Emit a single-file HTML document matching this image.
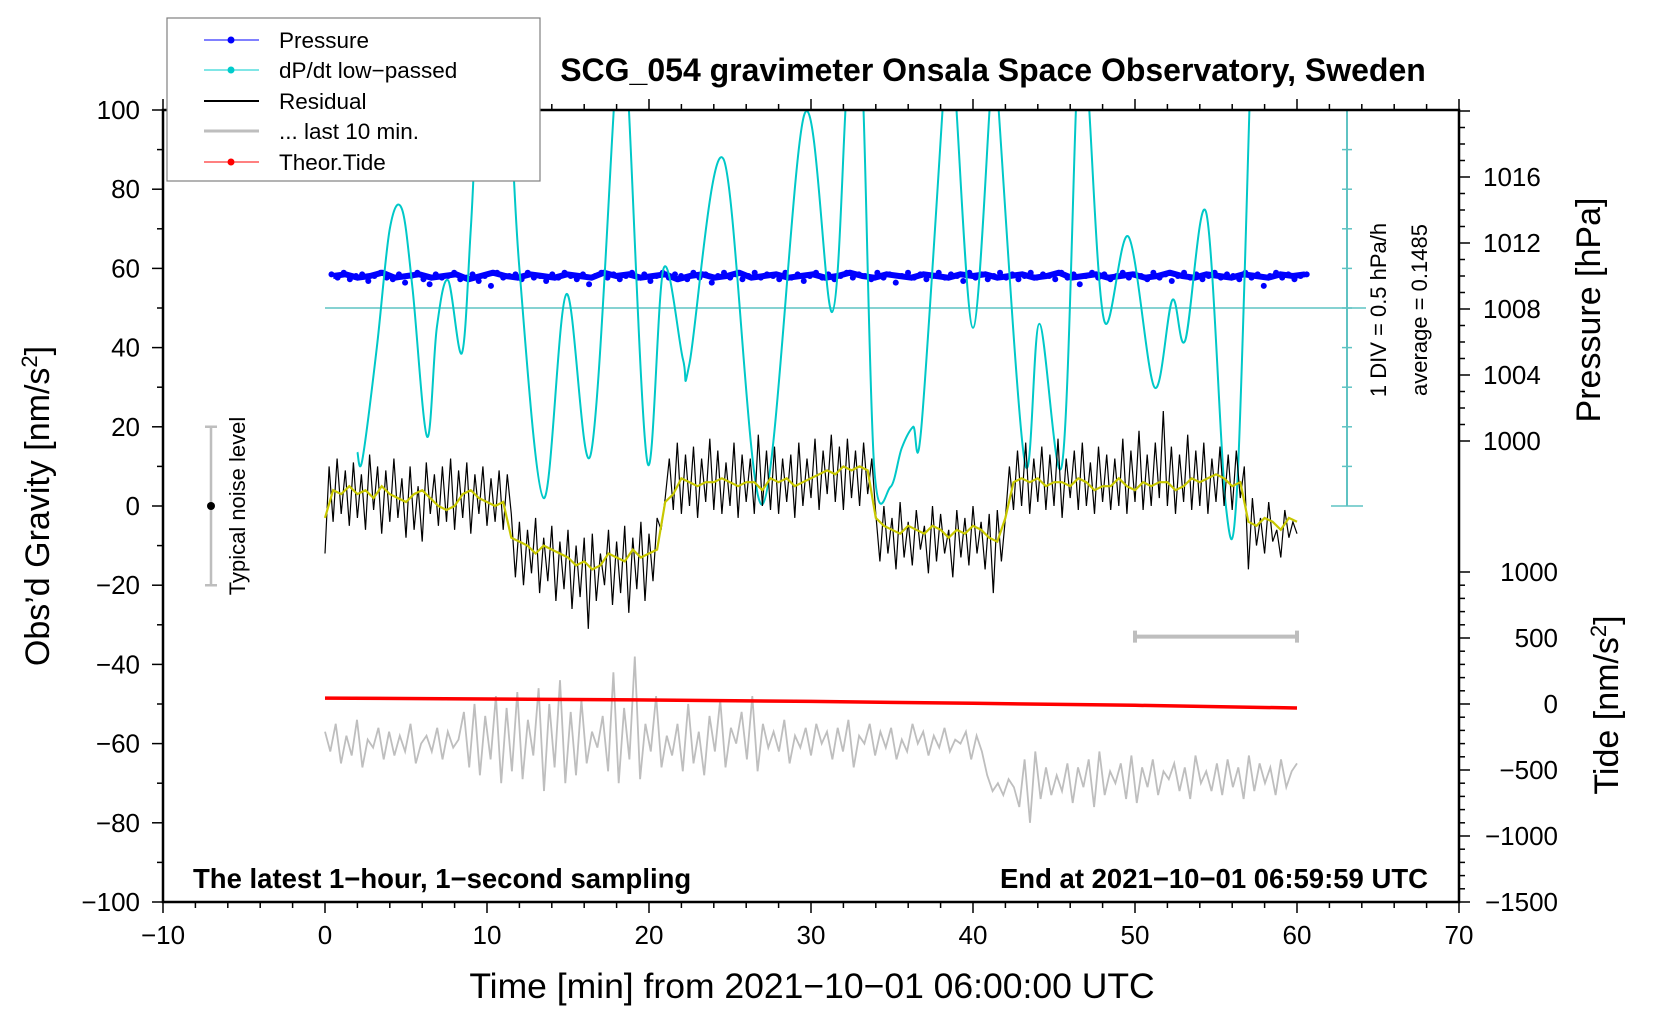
<!DOCTYPE html>
<html><head><meta charset="utf-8">
<style>
html,body{margin:0;padding:0;background:#fff;}
svg{display:block;font-family:"Liberation Sans",Arial,sans-serif;}
</style></head>
<body>
<svg id="chart" width="1660" height="1020" viewBox="0 0 1660 1020" xmlns="http://www.w3.org/2000/svg">
<defs><clipPath id="plotclip"><rect x="163" y="110" width="1296" height="792"/></clipPath></defs>
<g id="layer-data" clip-path="url(#plotclip)"></g>
<g id="layer-axes"></g>
<text x="993" y="81" text-anchor="middle" font-size="32" font-weight="bold">SCG_054 gravimeter Onsala Space Observatory, Sweden</text>
<text x="193" y="888" font-size="27.5" font-weight="bold">The latest 1−hour, 1−second sampling</text>
<text x="1428" y="888" text-anchor="end" font-size="27.5" font-weight="bold">End at 2021−10−01 06:59:59 UTC</text>
<text x="812" y="998" text-anchor="middle" font-size="35.5">Time [min] from 2021−10−01 06:00:00 UTC</text>
<text transform="translate(49,506) rotate(-90)" text-anchor="middle" font-size="34">Obs’d Gravity [nm/s<tspan dy="-12" font-size="22">2</tspan><tspan dy="12">]</tspan></text>
<text transform="translate(1600,310) rotate(-90)" text-anchor="middle" font-size="34">Pressure [hPa]</text>
<text transform="translate(1618,705) rotate(-90)" text-anchor="middle" font-size="34">Tide [nm/s<tspan dy="-12" font-size="22">2</tspan><tspan dy="12">]</tspan></text>
<text transform="translate(1386,310) rotate(-90)" text-anchor="middle" font-size="22">1 DIV = 0.5 hPa/h</text>
<text transform="translate(1427,310) rotate(-90)" text-anchor="middle" font-size="22">average = 0.1485</text>
<text transform="translate(245,506) rotate(-90)" text-anchor="middle" font-size="22">Typical noise level</text>
<g>
<rect x="167" y="18" width="373" height="163" fill="#fff" stroke="#808080" stroke-width="1.2"/>
<g><line x1="204" y1="40" x2="259" y2="40" stroke="#0000ff" stroke-width="1"/><circle cx="231" cy="40" r="3.5" fill="#0000ff"/><text x="279" y="48" font-size="22.5">Pressure</text></g>
<g><line x1="204" y1="70" x2="259" y2="70" stroke="#00cccc" stroke-width="1"/><circle cx="231" cy="70" r="3.5" fill="#00cccc"/><text x="279" y="78" font-size="22.5">dP/dt low−passed</text></g>
<g><line x1="204" y1="101" x2="259" y2="101" stroke="#000" stroke-width="2"/><text x="279" y="109" font-size="22.5">Residual</text></g>
<g><line x1="204" y1="131" x2="259" y2="131" stroke="#bebebe" stroke-width="3"/><text x="279" y="139" font-size="22.5">... last 10 min.</text></g>
<g><line x1="204" y1="162" x2="259" y2="162" stroke="#ff0000" stroke-width="1"/><circle cx="231" cy="162" r="3.5" fill="#ff0000"/><text x="279" y="170" font-size="22.5">Theor.Tide</text></g>
</g>
</svg>
<script>
// ---- data ----
const dpdtTimes = [2.0,2.3,3.2,4.0,4.75,5.4,6.3,6.9,7.6,8.45,9.0,9.5,10.5,11.3,12.0,13.5,14.9,16.4,17.9,18.3,18.7,19.9,20.9,22.1,22.5,24.6,27.0,29.6,31.3,32.2,32.7,33.2,33.9,34.9,35.6,36.3,36.8,38.2,38.5,38.9,40.0,41.1,41.3,41.5,43.2,44.1,45.5,46.4,46.75,47.1,48.1,49.6,51.2,52.3,53.1,54.4,55.6,56.3,57.1];
const dpdtValues = [13.6,11.6,40,70,75,55,17.5,45,57,38.6,70,105,130,110,60,2,53.5,13,105,125,105,11,60,37,36,87.6,0.4,99,49,105,125,105,9.8,4.8,14.6,20,19.4,105,125,105,45,105,115,105,11,46,10.6,105,120,105,46.8,68,30,52,41.8,74,0.4,4.6,105];
const residualValues = [-12,10,-4,12,-2,9,-5,11,-3,8,-6,13,-1,10,-7,9,-4,12,-3,7,-8,10,-6,5,-9,11,-2,8,-5,10,-4,12,-6,9,-3,11,-7,8,-2,10,-5,7,-4,9,-6,8,
-2,-18,-4,-20,-6,-17,-3,-22,-8,-19,-5,-24,-9,-21,-6,-26,-10,-23,-8,-31,-7,-24,-12,-20,-6,-25,-9,-22,-5,-27,-8,-21,-4,-24,-7,-19,-3,
-6,2,12,-1,16,-2,13,0,15,-3,12,1,17,-1,14,-2,11,0,16,-3,13,1,12,-2,18,0,14,-1,15,-2,12,1,13,-3,16,0,12,2,17,-1,14,3,18,1,15,-1,17,2,14,0,16,3,12,
-2,-14,0,-12,-3,-16,1,-13,-4,-15,-1,-11,-5,-17,0,-14,-2,-12,-6,-18,-1,-13,-3,-15,0,-12,-4,-16,-2,-22,-1,-14,-3,
10,-1,14,0,16,-2,12,1,15,-1,13,0,17,-3,12,2,14,-1,16,0,11,-2,15,1,13,-1,12,0,17,-2,14,1,19,-1,13,0,16,2,24,0,15,-2,13,1,18,-1,14,0,16,-2,12,1,15,0,13,-1,14,2,10,
-16,2,-10,-3,-12,1,-9,-6,-13,-1,-8,-4,-7];
const smoothValues = [-3,4,3,5,3,4,2,5,3,2,1,3,4,2,0,-1,0,3,4,2,1,0,1,-8,-9,-10,-12,-10,-11,-12,-13,-15,-14,-16,-15,-12,-13,-14,-11,-13,-12,-11,1,3,7,6,5,6,6,7,6,5,6,6,4,7,6,7,5,6,7,8,9,8,10,9,10,9,-3,-5,-6,-7,-5,-6,-7,-5,-6,-8,-6,-7,-5,-6,-8,-9,-3,6,7,6,7,5,6,6,5,7,6,4,5,5,7,5,4,6,5,6,6,4,5,7,6,7,8,7,5,6,-4,-5,-3,-4,-6,-3,-4];
const last10Values = [-57,-62,-55,-65,-58,-63,-54,-66,-59,-61,-56,-64,-57,-63,-58,-62,-55,-65,-60,-58,-62,-56,-64,-57,-61,-59,-52,-66,-50,-68,-53,-64,-48,-70,-51,-67,-47,-69,-54,-63,-46,-72,-50,-66,-44,-70,-52,-68,-49,-65,-57,-61,-53,-67,-42,-70,-51,-64,-38,-69,-55,-62,-48,-66,-58,-63,-55,-67,-50,-65,-57,-68,-53,-62,-49,-66,-56,-60,-52,-64,-48,-67,-55,-61,-57,-62,-54,-65,-58,-61,-56,-63,-55,-60,-57,-64,-56,-62,-54,-66,-58,-60,-55,-63,-57,-61,-56,-64,-59,-62,-55,-60,-57,-63,-58,-61,-56,-62,-59,-60,-57,-64,-58,-62,-68,-72,-70,-73,-69,-71,-76,-64,-80,-62,-74,-66,-73,-68,-72,-65,-75,-66,-71,-64,-76,-62,-73,-67,-70,-65,-74,-63,-75,-66,-71,-64,-73,-67,-69,-65,-72,-66,-74,-63,-70,-67,-72,-65,-73,-64,-71,-66,-74,-63,-72,-65,-70,-66,-73,-64,-71,-67,-65];
const pressureValues = [1010.1,1009.9,1010.2,1009.8,1010.0,1010.1,1009.7,1010.0,1010.2,1009.9,1009.8,1010.1,1009.6,1010.0,1010.2,1009.8,1009.5,1010.1,1009.9,1010.0,1010.2,1009.8,1009.9,1010.1,1009.7,1010.0,1009.4,1010.2,1009.9,1010.0,1010.1,1009.8,1010.2,1009.9,1010.0,1009.7,1010.1,1009.9,1010.2,1010.0,1009.8,1010.1,1009.5,1010.0,1010.2,1009.9,1010.1,1009.8,1010.0,1010.2,1009.9,1010.1,1009.7,1010.0,1010.2,1009.9,1010.1,1010.0,1009.8,1010.2,1009.9,1010.1,1009.6,1010.0,1010.2,1009.9,1010.1,1009.8,1010.0,1010.2,1009.9,1010.1,1010.0,1009.8,1010.2,1009.9,1010.1,1009.7,1010.0,1010.2,1009.9,1010.1,1009.8,1010.0,1010.2,1009.9,1010.1,1010.0,1009.8,1010.2,1009.9,1010.1,1009.6,1010.0,1010.2,1009.9,1010.1,1009.8,1010.0,1010.2,1009.9,1010.1,1010.0,1009.7,1010.2,1009.9,1010.1,1009.8,1010.0,1010.2,1009.9,1010.1,1009.8,1010.0,1010.2,1009.9,1010.1,1010.0,1009.8,1010.2,1009.9,1010.1,1009.5,1010.0,1010.2,1009.9,1010.1,1009.8,1010.0,1010.2,1009.9,1010.1,1010.0,1009.8,1010.2,1009.9,1010.1,1009.7,1010.0,1010.2,1009.9,1010.1,1009.8,1010.0,1010.2,1009.9,1010.1,1010.0,1009.8,1010.2,1009.9,1010.1,1009.4,1010.0,1010.2,1009.9,1010.1,1009.8,1010.0,1010.1];
const pressureValues2 = [1010.0,1010.1,1009.9,1010.0,1010.2,1009.9,1010.0,1010.1,1009.9,1010.0,1010.1,1009.8,1010.0,1010.2,1010.0,1009.9,1010.1,1010.0,1009.9,1010.1,1010.0,1009.9,1010.2,1010.0,1010.1,1009.9,1010.0,1010.1,1009.8,1010.0,1010.1,1009.9,1010.0,1010.2,1009.9,1010.0,1010.1,1009.9,1010.0,1010.1,1009.9,1010.0,1010.2,1010.0,1009.9,1010.1,1010.0,1009.9,1010.1,1010.0,1009.9,1010.1,1010.0,1010.1,1009.9,1010.0,1010.1,1009.9,1010.0,1010.2,1009.9,1010.0,1010.1,1009.9,1010.0,1010.1,1009.9,1010.0,1010.2,1010.0,1009.9,1010.1,1010.0,1009.9,1010.1,1010.0,1009.9,1010.1,1010.0,1010.1];
const tideTimes = [0,10,20,30,40,50,60];
const tideValues = [45,38,30,20,5,-10,-30];
const xTicks = [-10,0,10,20,30,40,50,60,70];
const yTicks = [-100,-80,-60,-40,-20,0,20,40,60,80,100];
const pTicks = [1000,1004,1008,1012,1016];
const tideTicks = [-1500,-1000,-500,0,500,1000];

// ---- scales ----
const X0=163, X1=1459, Y0=110, Y1=902;
const xS = t => 325 + t*16.2;
const yL = v => 506 - v*3.96;
const yP = p => 441 - (p-1000)*16.5;
const yT = v => 704 - v*0.132;
const NS='http://www.w3.org/2000/svg';
const dataG=document.getElementById('layer-data');
const axG=document.getElementById('layer-axes');
function mk(tag, attrs, parent){const e=document.createElementNS(NS,tag);for(const k in attrs)e.setAttribute(k,attrs[k]);parent.appendChild(e);return e;}
function linePath(pts){return pts.map((p,i)=>(i?'L':'M')+p[0].toFixed(1)+','+p[1].toFixed(1)).join('');}
function smoothPath(pts){let d='M'+pts[0][0]+','+pts[0][1];for(let i=0;i<pts.length-1;i++){const p0=pts[Math.max(0,i-1)],p1=pts[i],p2=pts[i+1],p3=pts[Math.min(pts.length-1,i+2)];const c1=[p1[0]+(p2[0]-p0[0])/6,p1[1]+(p2[1]-p0[1])/6],c2=[p2[0]-(p3[0]-p1[0])/6,p2[1]-(p3[1]-p1[1])/6];d+='C'+c1[0].toFixed(1)+','+c1[1].toFixed(1)+' '+c2[0].toFixed(1)+','+c2[1].toFixed(1)+' '+p2[0].toFixed(1)+','+p2[1].toFixed(1);}return d;}

let e;
e=mk('line',{x1:xS(0),y1:yL(50),x2:1366,y2:yL(50),stroke:'#5fc3c3','stroke-width':1.5},dataG);


e=mk('line',{x1:1347,y1:yL(100),x2:1347,y2:yL(0),stroke:'#5fc3c3','stroke-width':2},axG);


for(let v=0;v<=100;v+=10){const w=(v===0||v===100)?16:5;e=mk('line',{x1:1347-w,y1:yL(v),x2:1347+w,y2:yL(v),stroke:'#5fc3c3','stroke-width':1.5},axG);

}

// pressure band + dots
e=mk('path',{d:linePath(pressureValues2.map((p,i)=>[xS(0.5+i*(60.0/(pressureValues2.length-1))),yP(p)])),stroke:'#0000ff','stroke-width':6,fill:'none','stroke-linejoin':'round'},dataG);


pressureValues.forEach((p,i)=>{const t=0.4+i*(60.2/(pressureValues.length-1));
e=mk('circle',{cx:xS(t),cy:yP(p),r:3,fill:'#0000ff'},dataG);

});

e=mk('path',{d:smoothPath(dpdtTimes.map((t,i)=>[xS(t),yL(dpdtValues[i])])),stroke:'#00c8c8','stroke-width':2,fill:'none'},dataG);



e=mk('path',{d:linePath(residualValues.map((v,i)=>[xS(i*60/(residualValues.length-1)),yL(v)])),stroke:'#000','stroke-width':1.2,fill:'none'},dataG);


e=mk('path',{d:linePath(smoothValues.map((v,i)=>[xS(i*0.5),yL(v)])),stroke:'#c8c800','stroke-width':2.2,fill:'none'},dataG);



e=mk('path',{d:linePath(last10Values.map((v,i)=>[xS(i*60/(last10Values.length-1)),yL(v)])),stroke:'#bebebe','stroke-width':1.8,fill:'none'},dataG);



e=mk('path',{d:linePath(tideTimes.map((t,i)=>[xS(t),yT(tideValues[i])])),stroke:'#ff0000','stroke-width':3.5,fill:'none'},dataG);



e=mk('path',{d:`M${xS(50)},${yL(-33)}H${xS(60)}M${xS(50)},${yL(-33)-6}v12M${xS(60)},${yL(-33)-6}v12`,stroke:'#bebebe','stroke-width':4,fill:'none'},dataG);



e=mk('path',{d:`M211,${yL(20)}V${yL(-20)}M205,${yL(20)}h12M205,${yL(-20)}h12`,stroke:'#bebebe','stroke-width':2.5,fill:'none'},axG);


e=mk('circle',{cx:211,cy:yL(0),r:4,fill:'#000'},axG);



e=mk('path',{d:`M${X0},${Y0}H${X1}V${Y1}H${X0}Z`,stroke:'#000','stroke-width':2.5,fill:'none'},axG);



for(let t=-10;t<=70;t+=2){const maj=t%10===0;
e=mk('line',{x1:xS(t),y1:Y1,x2:xS(t),y2:Y1+(maj?11:6),stroke:'#000','stroke-width':1.5},axG);


e=mk('line',{x1:xS(t),y1:Y0,x2:xS(t),y2:Y0-(maj?11:6),stroke:'#000','stroke-width':1.5},axG);

}
xTicks.forEach(t=>{e=mk('text',{x:xS(t),y:944,'text-anchor':'middle','font-size':26},axG);e.textContent=String(t).replace('-','−');

});
for(let v=-100;v<=100;v+=10){const maj=v%20===0;
e=mk('line',{x1:X0,y1:yL(v),x2:X0-(maj?11:6),y2:yL(v),stroke:'#000','stroke-width':1.5},axG);

}
yTicks.forEach(v=>{e=mk('text',{x:140,y:yL(v)+9,'text-anchor':'end','font-size':26},axG);e.textContent=String(v).replace('-','−');

});
for(let p=1000;p<=1020;p+=1){const maj=p%4===0;
e=mk('line',{x1:X1,y1:yP(p),x2:X1+(maj?11:6),y2:yP(p),stroke:'#000','stroke-width':1.5},axG);

}
pTicks.forEach(p=>{e=mk('text',{x:1483,y:yP(p)+9,'font-size':26},axG);e.textContent=String(p);

});
for(let v=-1500;v<=1000;v+=100){const maj=v%500===0;
e=mk('line',{x1:X1,y1:yT(v),x2:X1+(maj?11:6),y2:yT(v),stroke:'#000','stroke-width':1.5},axG);

}
tideTicks.forEach(v=>{e=mk('text',{x:1558,y:yT(v)+9,'text-anchor':'end','font-size':26},axG);e.textContent=String(v).replace('-','−');

});
</script>
</body></html>
